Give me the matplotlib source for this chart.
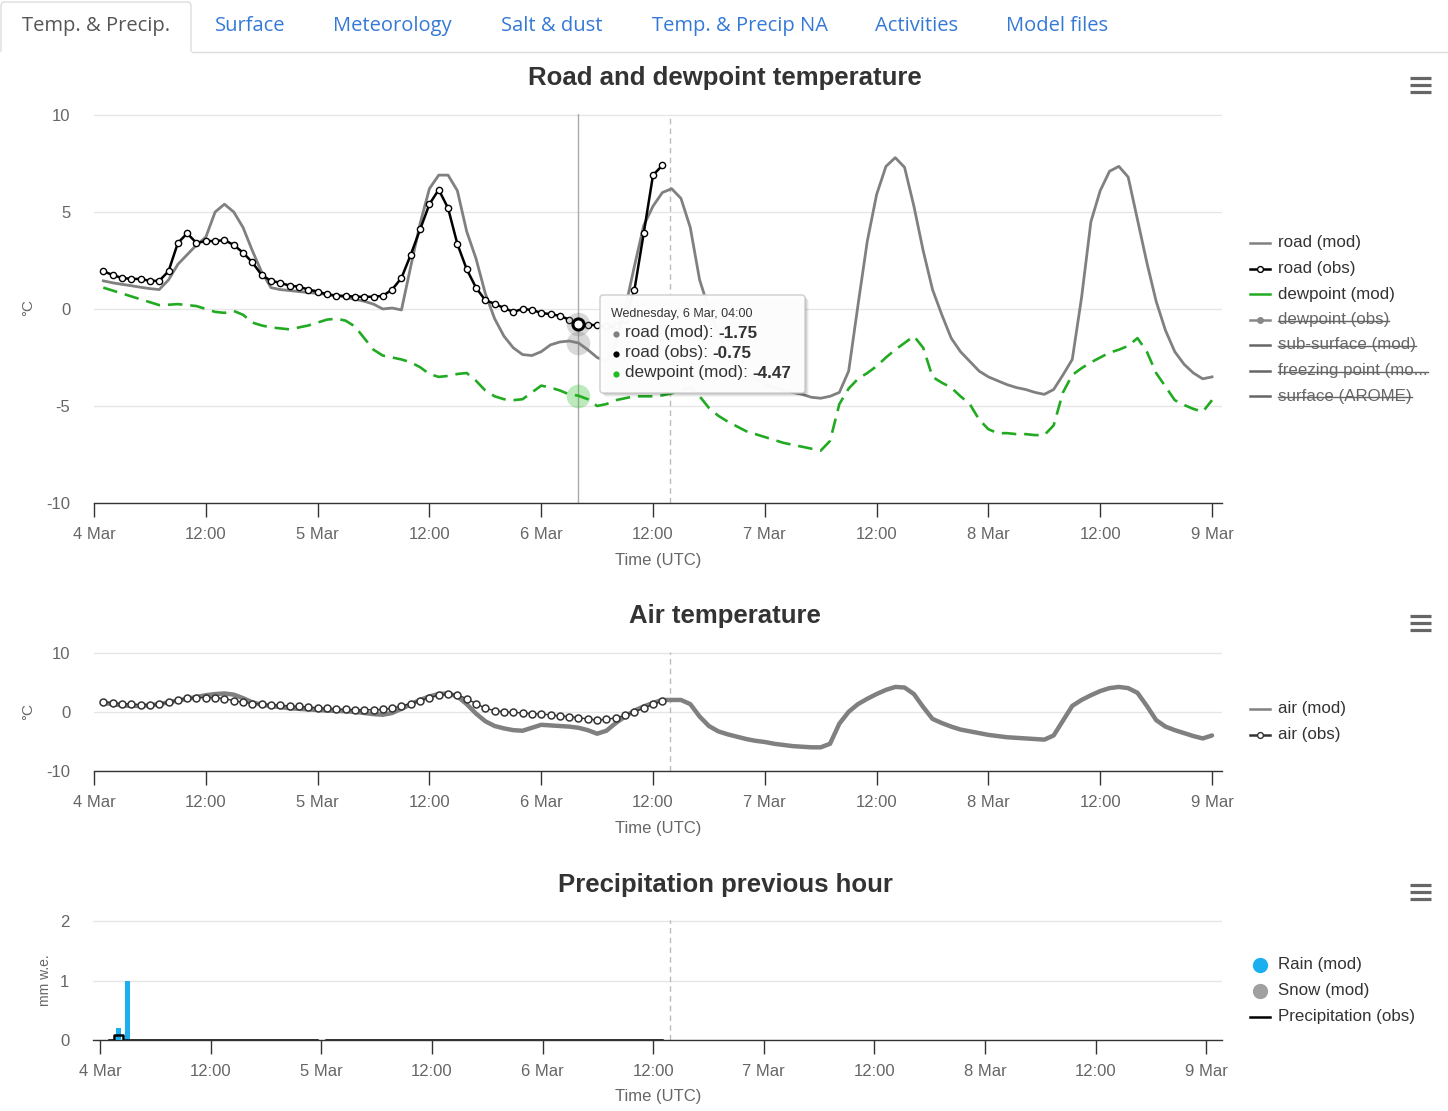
import numpy as np
import matplotlib
matplotlib.use('Agg')
import matplotlib.pyplot as plt
from matplotlib.patches import FancyBboxPatch, Rectangle

W, H = 1448, 1111
plt.rcParams['font.family'] = ['Liberation Sans', 'DejaVu Sans']
plt.rcParams['axes.unicode_minus'] = False

# ---------------- data ----------------
tick_hours = list(range(0, 121, 12))
tick_labels = ['4 Mar', '12:00', '5 Mar', '12:00', '6 Mar', '12:00',
               '7 Mar', '12:00', '8 Mar', '12:00', '9 Mar']

tabs = ['Temp. & Precip.', 'Surface', 'Meteorology', 'Salt & dust',
        'Temp. & Precip NA', 'Activities', 'Model files']

# hourly values starting at 4 Mar 01:00
road_mod = [1.45, 1.35, 1.27, 1.2, 1.12, 1.05, 1.0, 1.5, 2.3, 2.8,
            3.3, 3.7, 5.0, 5.4, 5.0, 4.2, 3.0, 1.9, 1.1, 1.0,
            0.95, 0.9, 0.85, 0.8, 0.75, 0.7, 0.6, 0.5, 0.4, 0.25,
            0.0, 0.05, -0.05, 2.2, 4.4, 6.2, 6.9, 6.9, 6.1, 4.0,
            2.6, 0.8, -0.5, -1.4, -2.0, -2.35, -2.4, -2.2, -1.85, -1.7,
            -1.65, -1.75, -2.1, -2.5, -2.7, -1.8, 0.0, 2.2, 4.3, 5.3,
            6.0, 6.2, 5.7, 4.2, 1.5, 0.0, -1.3, -2.2, -2.9, -3.3,
            -3.6, -3.85, -4.05, -4.2, -4.3, -4.4, -4.55, -4.6, -4.5, -4.3,
            -3.2, 0.2, 3.5, 5.9, 7.35, 7.8, 7.3, 5.3, 3.0, 1.0,
            -0.3, -1.5, -2.2, -2.7, -3.2, -3.5, -3.7, -3.9, -4.05, -4.15,
            -4.3, -4.4, -4.15, -3.4, -2.6, 0.6, 4.5, 6.1, 7.1, 7.35,
            6.8, 4.6, 2.4, 0.4, -1.1, -2.2, -2.85, -3.3, -3.6, -3.5]

road_obs = [1.95, 1.75, 1.6, 1.55, 1.55, 1.45, 1.45, 1.95, 3.4, 3.9,
            3.4, 3.5, 3.5, 3.55, 3.3, 2.9, 2.4, 1.75, 1.45, 1.35,
            1.2, 1.15, 1.0, 0.9, 0.75, 0.68, 0.68, 0.63, 0.63, 0.63,
            0.68, 1.0, 1.6, 2.8, 4.1, 5.4, 6.15, 5.2, 3.35, 2.05,
            1.1, 0.45, 0.27, 0.05, -0.15, 0.0, -0.05, -0.2, -0.27, -0.35,
            -0.55, -0.75, -0.8, -0.85, -0.9, -0.9, -0.5, 0.97, 3.9, 6.9,
            7.4]

dew_mod = [1.1, 0.95, 0.8, 0.65, 0.5, 0.35, 0.2, 0.22, 0.25, 0.2,
           0.15, 0.0, -0.15, -0.2, -0.1, -0.3, -0.7, -0.85, -0.95, -1.0,
           -1.05, -0.95, -0.85, -0.7, -0.55, -0.5, -0.6, -0.9, -1.5, -2.1,
           -2.4, -2.5, -2.6, -2.75, -3.0, -3.35, -3.5, -3.45, -3.35, -3.3,
           -3.7, -4.2, -4.5, -4.65, -4.7, -4.65, -4.3, -3.95, -4.05, -4.2,
           -4.4, -4.47, -4.65, -5.0, -4.9, -4.7, -4.6, -4.5, -4.5, -4.5,
           -4.45, -4.35, -4.2, -4.05, -4.5, -5.1, -5.5, -5.8, -6.05, -6.3,
           -6.45, -6.6, -6.75, -6.9, -7.0, -7.1, -7.2, -7.3, -6.8, -4.9,
           -4.1, -3.6, -3.3, -2.95, -2.5, -2.1, -1.75, -1.4, -2.0, -3.5,
           -3.8, -4.05, -4.5, -4.9, -5.7, -6.2, -6.4, -6.4, -6.45, -6.45,
           -6.5, -6.5, -6.0, -4.3, -3.4, -3.05, -2.75, -2.5, -2.25, -2.1,
           -1.9, -1.5, -2.2, -3.3, -4.0, -4.7, -4.95, -5.15, -5.3, -4.7]

air_mod = [1.5, 1.3, 1.1, 1.0, 1.0, 1.1, 1.3, 1.6, 1.9, 2.2,
           2.5, 2.8, 3.0, 3.1, 2.9, 2.3, 1.6, 1.2, 1.0, 0.8,
           0.6, 0.5, 0.4, 0.3, 0.2, 0.15, 0.1, 0.0, -0.2, -0.4,
           -0.5, -0.2, 0.5, 1.3, 2.0, 2.6, 3.0, 3.1, 2.6, 1.3,
           -0.3, -1.6, -2.4, -2.8, -3.1, -3.2, -2.7, -2.2, -2.3, -2.4,
           -2.5, -2.7, -3.1, -3.7, -3.2, -1.9, -0.8, 0.2, 0.9, 1.5,
           2.0, 2.0, 2.0, 1.3, -0.8, -2.4, -3.3, -3.8, -4.2, -4.6,
           -4.9, -5.1, -5.4, -5.6, -5.8, -5.9, -6.0, -6.0, -5.4, -2.0,
           0.0, 1.3, 2.2, 3.0, 3.7, 4.2, 4.1, 3.0, 0.8, -1.2,
           -1.9, -2.5, -3.0, -3.3, -3.6, -3.9, -4.1, -4.3, -4.4, -4.5,
           -4.6, -4.7, -4.0, -1.5, 1.0, 2.0, 2.8, 3.5, 4.0, 4.2,
           4.0, 3.2, 1.0, -1.4, -2.5, -3.1, -3.6, -4.1, -4.5, -4.0]

air_obs = [1.7, 1.5, 1.4, 1.3, 1.2, 1.2, 1.3, 1.6, 2.0, 2.3,
           2.4, 2.4, 2.4, 2.2, 1.9, 1.6, 1.4, 1.3, 1.2, 1.1,
           1.0, 0.9, 0.8, 0.7, 0.6, 0.5, 0.4, 0.35, 0.35, 0.35,
           0.4, 0.6, 1.0, 1.4, 1.9, 2.4, 2.8, 3.0, 2.9, 2.2,
           1.4, 0.6, 0.2, 0.0, -0.1, -0.2, -0.3, -0.4, -0.5, -0.7,
           -0.8, -1.0, -1.2, -1.4, -1.3, -1.0, -0.6, 0.0, 0.6, 1.25,
           1.85]

rain_hours = [2, 3]
rain_mod = [0.2, 1.0]
precip_obs = [0.0, 0.08] + [0.0] * 21 + [np.nan] + [0.0] * 37

hover_hour = 52
now_hour = 61.8

# ---------------- figure ----------------
fig = plt.figure(figsize=(W / 100, H / 100), dpi=100)
fig.patch.set_facecolor('white')


def px_axes(l, t, r, b):
    return fig.add_axes([l / W, 1 - b / H, (r - l) / W, (b - t) / H])


def style(ax, yticks, ylim, xlim):
    ax.set_xlim(*xlim)
    ax.set_ylim(*ylim)
    ax.set_xticks(tick_hours)
    ax.set_xticklabels(tick_labels)
    ax.set_yticks(yticks)
    for s in ['top', 'right', 'left']:
        ax.spines[s].set_visible(False)
    ax.spines['bottom'].set_color('#333333')
    ax.spines['bottom'].set_linewidth(1)
    ax.tick_params(axis='x', direction='out', length=10, width=1, color='#333333',
                   labelsize=12, labelcolor='#666666', pad=7)
    ax.tick_params(axis='y', length=0, labelsize=12, labelcolor='#666666', pad=17)
    ax.grid(axis='y', color='#e6e6e6', lw=1)
    ax.set_axisbelow(True)
    ax.patch.set_alpha(0)


h_road = np.arange(1, len(road_mod) + 1)
h_obs = np.arange(1, len(road_obs) + 1)
h_dew = np.arange(1, len(dew_mod) + 1)
h_air = np.arange(1, len(air_mod) + 1)
h_airo = np.arange(1, len(air_obs) + 1)
h_prec = np.arange(1, len(precip_obs) + 1)

# ---- chart 1 ----
ax1 = px_axes(94, 114, 1222, 503)
style(ax1, [-10, -5, 0, 5, 10], (-10, 10.05), (0, 121.07))
ax1.axvline(now_hour, color='#bbbbbb', lw=1, ls=(0, (4, 3)), zorder=1)
ax1.axvline(hover_hour, color='#aaaaaa', lw=1, zorder=1)
ax1.plot(h_road, road_mod, color='#808080', lw=2, zorder=3)
ax1.plot(h_dew, dew_mod, color='#22aa22', lw=1.9, dashes=(5.5, 3), zorder=3)
ax1.plot(h_obs, road_obs, color='black', lw=1.8, marker='o', ms=4.5,
         mfc='white', mec='black', mew=1, zorder=4)
i = hover_hour - 1
ax1.plot([hover_hour], [road_mod[i]], 'o', ms=17, color='#808080', alpha=0.3, mew=0, zorder=5)
ax1.plot([hover_hour], [dew_mod[i]], 'o', ms=17, color='#22bb22', alpha=0.3, mew=0, zorder=5)
ax1.plot([hover_hour], [road_obs[i]], 'o', ms=17, color='#808080', alpha=0.3, mew=0, zorder=5)
ax1.plot([hover_hour], [road_obs[i]], 'o', ms=8, mfc='white', mec='black', mew=2.2, zorder=6)

# ---- chart 2 ----
ax2 = px_axes(94, 652, 1222, 771)
style(ax2, [-10, 0, 10], (-10, 10.1), (0, 121.07))
ax2.axvline(now_hour, color='#bbbbbb', lw=1, ls=(0, (4, 3)), zorder=1)
ax2.plot(h_air, air_mod, color='#808080', lw=3.2, zorder=3, solid_capstyle='round')
ax2.plot(h_airo, air_obs, color='#333333', lw=1, marker='o', ms=5,
         mfc='white', mec='#333333', mew=1.1, zorder=4)

# ---- chart 3 ----
ax3 = px_axes(93, 920, 1222, 1040)
style(ax3, [0, 1, 2], (0, 2.02), (-0.76, 121.7))
ax3.axvline(now_hour, color='#bbbbbb', lw=1, ls=(0, (4, 3)), zorder=1)
ax3.bar(rain_hours, rain_mod, width=0.55, color='#1ab0ef', zorder=3)
ax3.plot(h_prec, precip_obs, color='black', lw=1.8, drawstyle='steps-mid', zorder=4)

# ---------------- overlay (pixel coordinates) ----------------
ov = fig.add_axes([0, 0, 1, 1], zorder=10)
ov.set_xlim(0, W)
ov.set_ylim(H, 0)
ov.axis('off')
ov.patch.set_alpha(0)
renderer = fig.canvas.get_renderer()


def text_extent(t):
    bb = t.get_window_extent(renderer=renderer)
    inv = ov.transData.inverted()
    (x0, y0) = inv.transform((bb.x0, bb.y0))
    (x1, y1) = inv.transform((bb.x1, bb.y1))
    return x0, x1, y0, y1


# tabs
ov.plot([192, W], [52, 52], color='#dddddd', lw=1)
ov.add_patch(FancyBboxPatch((1, 2), 190, 60, boxstyle='round,pad=0,rounding_size=4',
                            fc='white', ec='#dddddd', lw=1))
ov.add_patch(Rectangle((0, 52), 193, 12, fc='white', ec='none'))
tab_x = [96, 250, 392, 552, 740, 917, 1057]
for k, (lbl, x) in enumerate(zip(tabs, tab_x)):
    ov.text(x, 26, lbl, ha='center', va='center', fontsize=14.5,
            family=['Open Sans', 'DejaVu Sans'],
            color='#555555' if k == 0 else '#3579d6')

# titles
titles = [('Road and dewpoint temperature', 78), ('Air temperature', 616),
          ('Precipitation previous hour', 885)]
for t, y in titles:
    ov.text(725, y, t, ha='center', va='center', fontsize=18.5, fontweight='bold', color='#333333')

# y labels and x labels
ov.text(28, 308, '°C', rotation=90, ha='center', va='center', fontsize=11, color='#666666')
ov.text(28, 711, '°C', rotation=90, ha='center', va='center', fontsize=11, color='#666666')
ov.text(45, 980, 'mm w.e.', rotation=90, ha='center', va='center', fontsize=10, color='#666666')
for y in [560, 828, 1097]:
    ov.text(658, y, 'Time (UTC)', ha='center', va='center', fontsize=12, color='#666666')

# hamburger icons
for yc in [85, 623, 892]:
    for dy in [-7, 0, 7]:
        ov.plot([1410, 1431], [yc + dy, yc + dy], color='#666666', lw=2.3, solid_capstyle='butt')

# legends
legend1 = [('road (mod)', 'line', '#808080', False),
           ('road (obs)', 'obs', 'black', False),
           ('dewpoint (mod)', 'line', '#22aa22', False),
           ('dewpoint (obs)', 'dot', '#888888', True),
           ('sub-surface (mod)', 'line', '#666666', True),
           ('freezing point (mo...', 'line', '#666666', True),
           ('surface (AROME)', 'line', '#666666', True)]
y0 = 243
for k, (lbl, kind, col, hidden) in enumerate(legend1):
    y = y0 + k * 25.5
    ov.plot([1250, 1270], [y, y], color=col, lw=1.8)
    if kind == 'obs':
        ov.plot([1260], [y], 'o', ms=4.2, mfc='white', mec='black', mew=1)
    if kind == 'dot':
        ov.plot([1260], [y], 'o', ms=4, color=col)
    t = ov.text(1278, y, lbl, ha='left', va='center', fontsize=12.2,
                color='#666666' if hidden else '#333333')
    if hidden:
        x0, x1, ya, yb = text_extent(t)
        ov.plot([x0, x1], [y + 1, y + 1], color='#666666', lw=1)

legend2 = [('air (mod)', 'line'), ('air (obs)', 'obs')]
for k, (lbl, kind) in enumerate(legend2):
    y = 709 + k * 26
    ov.plot([1250, 1270], [y, y], color='#808080' if kind == 'line' else '#333333', lw=1.8)
    if kind == 'obs':
        ov.plot([1260], [y], 'o', ms=4.2, mfc='white', mec='#333333', mew=1)
    ov.text(1278, y, lbl, ha='left', va='center', fontsize=12.2, color='#333333')

legend3 = [('Rain (mod)', '#1ab0ef', 'dot'), ('Snow (mod)', '#a0a0a0', 'dot'),
           ('Precipitation (obs)', 'black', 'line')]
for k, (lbl, col, kind) in enumerate(legend3):
    y = 965 + k * 26
    if kind == 'dot':
        ov.plot([1260], [y], 'o', ms=11, color=col, mew=0)
    else:
        ov.plot([1250, 1270], [y, y], color=col, lw=1.8)
    ov.text(1278, y, lbl, ha='left', va='center', fontsize=12.2, color='#333333')

# tooltip
for off, a in [(4, 0.04), (3, 0.06), (2, 0.08), (1, 0.1)]:
    ov.add_patch(FancyBboxPatch((600 + off, 295 + off), 205, 98,
                                boxstyle='round,pad=0,rounding_size=3',
                                fc='black', ec='none', alpha=a))
ov.add_patch(FancyBboxPatch((600, 295), 205, 98, boxstyle='round,pad=0,rounding_size=3',
                            fc='white', ec='#cccccc', lw=1, alpha=0.97))
ov.text(611, 314, 'Wednesday, 6 Mar, 04:00', ha='left', va='center', fontsize=9, color='#333333')
i = hover_hour - 1
tip = [('road (mod): ', road_mod[i], '#808080'),
       ('road (obs): ', road_obs[i], 'black'),
       ('dewpoint (mod): ', dew_mod[i], '#22bb22')]
for k, (lbl, val, col) in enumerate(tip):
    y = 333 + k * 20
    ov.plot([616], [y + 1], 'o', ms=4.5, color=col, mew=0)
    t = ov.text(625, y, lbl, ha='left', va='center', fontsize=12.3, color='#333333')
    x0, x1, ya, yb = text_extent(t)
    ov.text(x1, y, f'{val:.2f}', ha='left', va='center', fontsize=12.3,
            fontweight='bold', color='#333333')

fig.savefig('out.png', dpi=100, facecolor='white')
